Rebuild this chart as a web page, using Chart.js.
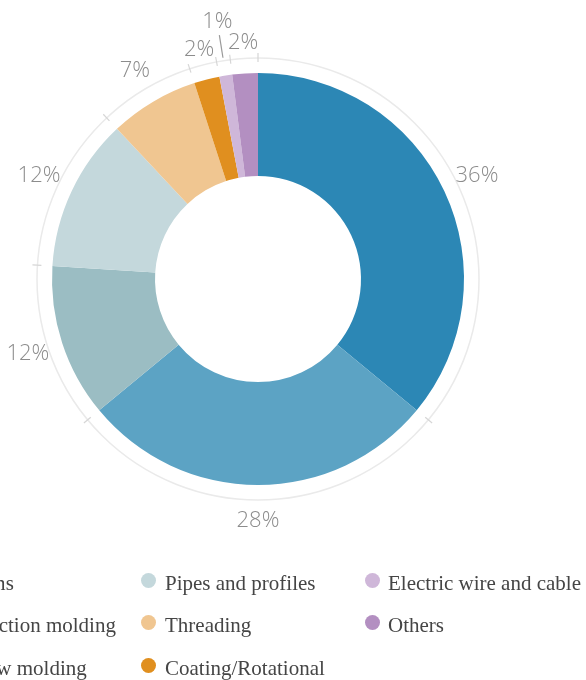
<!DOCTYPE html>
<html><head><meta charset="utf-8">
<script src="https://cdn.jsdelivr.net/npm/chart.js@4/dist/chart.umd.min.js"></script>
<style>
html,body{margin:0;padding:0;background:#fff;overflow:hidden;width:586px;height:680px;}
#wrap{position:absolute;left:0;top:0;width:586px;height:560px;}
#legend{position:absolute;left:0;top:0;width:586px;height:680px;pointer-events:none;}
.item{position:absolute;font-family:"Liberation Serif","Times New Roman",serif;font-size:21px;color:#454545;white-space:nowrap;line-height:24px;}
.dot{position:absolute;width:15px;height:15px;border-radius:50%;}
</style></head><body>
<div id="wrap"><canvas id="c" width="586" height="560"></canvas></div>
<div id="legend"></div>
<script>
const categories = ["Films","Injection molding","Blow molding","Pipes and profiles","Threading","Coating/Rotational","Electric wire and cable","Others"];
const shares = [36,28,12,12,7,2,1,2];
const valueLabels = ["36%","28%","12%","12%","7%","2%","1%","2%"];
const colors = ["#2c87b5","#5ca3c4","#9bbdc3","#c4d8dc","#f0c691","#e08f1f","#cfb7d9","#b38fc1"];

// legend (column-major, 3 rows)
const legendCols = [{dot:-50,text:-34},{dot:148,text:165},{dot:372,text:388}];
const legendRows = [580,622,665];
const lg = document.getElementById('legend');
categories.forEach((name,i)=>{
  const col = legendCols[Math.floor(i/3)], row = legendRows[i%3];
  const d = document.createElement('div');
  d.className='dot'; d.style.background=colors[i];
  d.style.left=(col.dot-7.5)+'px'; d.style.top=(row-7.5)+'px';
  lg.appendChild(d);
  const t = document.createElement('div');
  t.className='item'; t.textContent=name;
  t.style.left=col.text+'px'; t.style.top=(row-9)+'px';
  lg.appendChild(t);
});

const ringPlugin = {
  id:'ring',
  afterDatasetsDraw(chart){
    const meta = chart.getDatasetMeta(0);
    const a0 = meta.data[0];
    const cx=a0.x, cy=a0.y, R=a0.outerRadius;
    const ctx=chart.ctx;
    const rr=R+15;
    ctx.save();
    ctx.strokeStyle='#eaeaea'; ctx.lineWidth=1.5;
    ctx.beginPath(); ctx.arc(cx,cy,rr,0,Math.PI*2); ctx.stroke();
    ctx.strokeStyle='#d6d6d6'; ctx.lineWidth=1.2;
    meta.data.forEach(a=>{
      const g=a.startAngle;
      ctx.beginPath();
      ctx.moveTo(cx+Math.cos(g)*(rr-4),cy+Math.sin(g)*(rr-4));
      ctx.lineTo(cx+Math.cos(g)*(rr+5),cy+Math.sin(g)*(rr+5));
      ctx.stroke();
    });
    ctx.font='300 22px "Open Sans", sans-serif';
    ctx.fillStyle='#8c8c8c';
    ctx.textAlign='center'; ctx.textBaseline='middle';
    meta.data.forEach((a,i)=>{
      const m=(a.startAngle+a.endAngle)/2;
      let r=R+36;
      if (shares[i] < 2){
        ctx.strokeStyle='#9a9a9a'; ctx.lineWidth=1.2;
        ctx.beginPath();
        ctx.moveTo(cx+Math.cos(m)*(R+18),cy+Math.sin(m)*(R+18));
        ctx.lineTo(cx+Math.cos(m)*(R+41),cy+Math.sin(m)*(R+41));
        ctx.stroke();
        r=R+54;
      } else if (shares[i] <= 2) {
        r=R+31;
      }
      ctx.fillText(valueLabels[i],cx+Math.cos(m)*r,cy+Math.sin(m)*r);
    });
    ctx.restore();
  }
};

new Chart(document.getElementById('c'),{
  type:'doughnut',
  data:{labels:categories,datasets:[{data:shares,backgroundColor:colors,borderWidth:0}]},
  options:{
    responsive:false,animation:false,cutout:'50%',
    layout:{padding:{left:52,right:122,top:73,bottom:75}},
    plugins:{legend:{display:false},tooltip:{enabled:false}}
  },
  plugins:[ringPlugin]
});
</script>
</body></html>
